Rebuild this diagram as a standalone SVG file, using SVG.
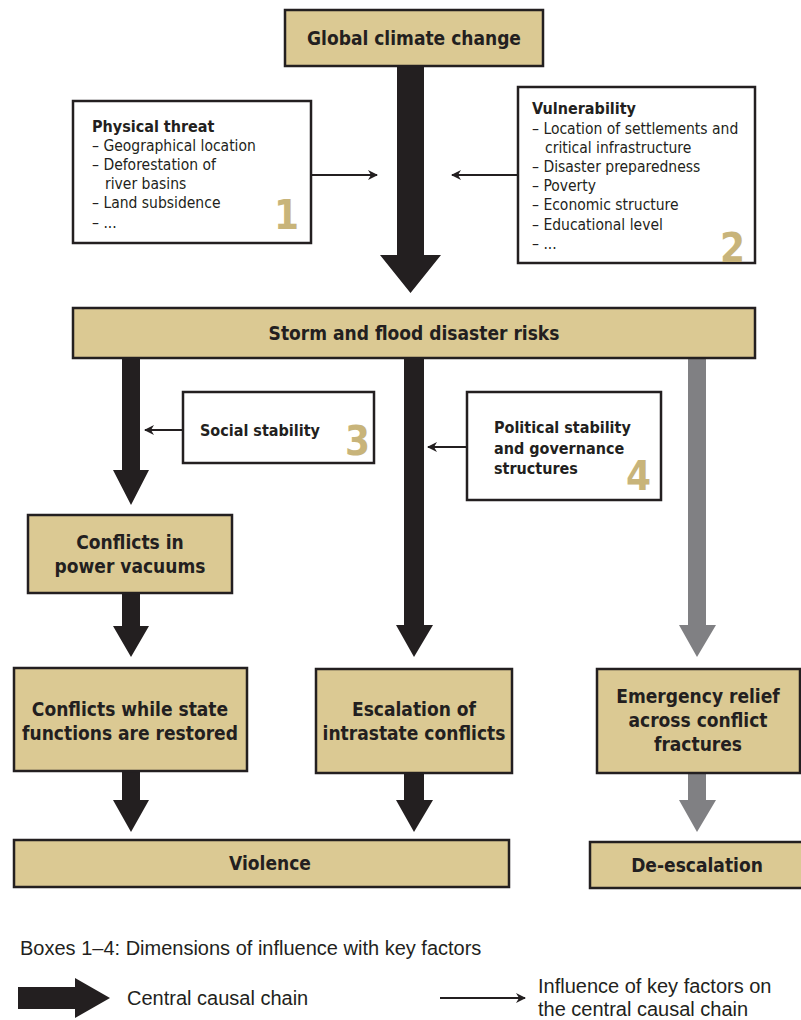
<svg xmlns="http://www.w3.org/2000/svg" width="801" height="1020" viewBox="0 0 801 1020">
<defs>
<marker id="thin" markerWidth="10" markerHeight="10" refX="9" refY="5" orient="auto" markerUnits="userSpaceOnUse">
<path d="M0,0 L10,5 L0,10 L3,5 Z" fill="#231f20"/>
</marker>
</defs>
<style>
.tan{fill:#dbc993;stroke:#231f20;stroke-width:2.5}
.wht{fill:#fff;stroke:#231f20;stroke-width:2.5}
.t{font-family:"Liberation Sans Narrow","DejaVu Sans Condensed","Liberation Sans",sans-serif;fill:#231f20}
.h{font-weight:bold;font-size:19px;text-anchor:middle}
.b{font-weight:bold;font-size:16px}
.r{font-size:15.5px}
.n{font-family:"Liberation Sans Narrow","DejaVu Sans Condensed","Liberation Sans",sans-serif;font-weight:bold;font-size:40px;fill:#c8b47a}
.leg{font-family:"Liberation Sans","Arial",sans-serif;font-size:20px;fill:#231f20}
.blk{fill:#231f20}
.gry{fill:#808083}
.ln{stroke:#231f20;stroke-width:2;fill:none;marker-end:url(#thin)}
</style>
<g id="connectors">
<path class="blk" d="M397,66 H424 V255 H441 L410.5,293 L380,255 H397 Z"/>
<path class="blk" d="M122,358 H140 V470 H149 L131,505 L113,470 H122 Z"/>
<path class="blk" d="M404,358 H424 V625 H433 L414,657 L396,625 H404 Z"/>
<path class="gry" d="M688,358 H706 V625 H716 L697,657 L679,625 H688 Z"/>
<path class="blk" d="M122,593 H140 V626 H149 L131,657 L113,626 H122 Z"/>
<path class="blk" d="M122,771 H140 V800 H149 L131,832 L113,800 H122 Z"/>
<path class="blk" d="M404,773 H424 V800 H433 L414,832 L396,800 H404 Z"/>
<path class="gry" d="M688,773 H706 V800 H716 L697,832 L679,800 H688 Z"/>
<line class="ln" x1="311" y1="175" x2="377" y2="175"/>
<line class="ln" x1="518" y1="175" x2="452" y2="175"/>
<line class="ln" x1="183" y1="430" x2="145" y2="430"/>
<line class="ln" x1="467" y1="447" x2="428" y2="447"/>
</g>
<g id="n-global">
<rect class="tan" x="285" y="10" width="258" height="56"/>
<text class="t h" x="414" y="45">Global climate change</text>
</g>
<g id="n-box1">
<rect class="wht" x="73" y="101" width="238" height="142"/>
<text class="t b" x="92" y="132">Physical threat</text>
<text class="t r" x="92" y="151">– Geographical location</text>
<text class="t r" x="92" y="170">– Deforestation of</text>
<text class="t r" x="105" y="189">river basins</text>
<text class="t r" x="92" y="208">– Land subsidence</text>
<text class="t r" x="92" y="228">– ...</text>
<text class="n" x="274" y="229">1</text>
</g>
<g id="n-box2">
<rect class="wht" x="518" y="87" width="237" height="176"/>
<text class="t b" x="532" y="114">Vulnerability</text>
<text class="t r" x="532" y="134">– Location of settlements and</text>
<text class="t r" x="545" y="153">critical infrastructure</text>
<text class="t r" x="532" y="172">– Disaster preparedness</text>
<text class="t r" x="532" y="191">– Poverty</text>
<text class="t r" x="532" y="210">– Economic structure</text>
<text class="t r" x="532" y="230">– Educational level</text>
<text class="t r" x="532" y="249">– ...</text>
<text class="n" x="720" y="262">2</text>
</g>
<g id="n-storm">
<rect class="tan" x="73" y="308" width="682" height="50"/>
<text class="t h" x="414" y="340">Storm and flood disaster risks</text>
</g>
<g id="n-box3">
<rect class="wht" x="183" y="392" width="191" height="71"/>
<text class="t b" x="200" y="436">Social stability</text>
<text class="n" x="345" y="455">3</text>
</g>
<g id="n-box4">
<rect class="wht" x="467" y="392" width="194" height="108"/>
<text class="t b" x="494" y="433">Political stability</text>
<text class="t b" x="494" y="454">and governance</text>
<text class="t b" x="494" y="474">structures</text>
<text class="n" x="626" y="490">4</text>
</g>
<g id="n-vacuum">
<rect class="tan" x="28" y="515" width="204" height="78"/>
<text class="t h" x="130" y="549">Conflicts in</text>
<text class="t h" x="130" y="573">power vacuums</text>
</g>
<g id="n-state">
<rect class="tan" x="14" y="668" width="233" height="103"/>
<text class="t h" x="130" y="716">Conflicts while state</text>
<text class="t h" x="130" y="740">functions are restored</text>
</g>
<g id="n-escal">
<rect class="tan" x="316" y="669" width="196" height="104"/>
<text class="t h" x="414" y="716">Escalation of</text>
<text class="t h" x="414" y="740">intrastate conflicts</text>
</g>
<g id="n-relief">
<rect class="tan" x="597" y="669" width="203" height="104"/>
<text class="t h" x="698" y="703">Emergency relief</text>
<text class="t h" x="698" y="727">across conflict</text>
<text class="t h" x="698" y="751">fractures</text>
</g>
<g id="n-violence">
<rect class="tan" x="14" y="840" width="495" height="47"/>
<text class="t h" x="270" y="870">Violence</text>
</g>
<g id="n-deesc">
<rect class="tan" x="590" y="842" width="213" height="46"/>
<text class="t h" x="697" y="872">De-escalation</text>
</g>
<g id="legend">
<text class="leg" x="20" y="955">Boxes 1–4: Dimensions of influence with key factors</text>
<path class="blk" d="M18,987 H75 V978 L110,998 L75,1018 V1009 H18 Z"/>
<text class="leg" x="127" y="1005">Central causal chain</text>
<line class="ln" x1="440" y1="998" x2="525" y2="998"/>
<text class="leg" x="538" y="993">Influence of key factors on</text>
<text class="leg" x="538" y="1016">the central causal chain</text>
</g>
</svg>
